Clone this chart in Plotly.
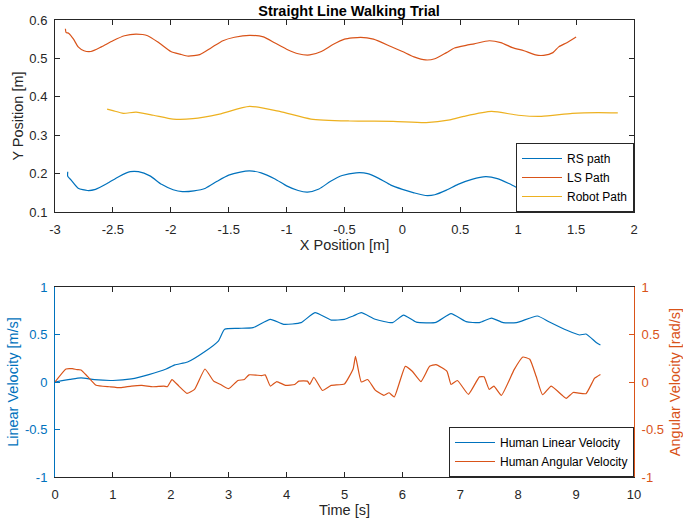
import plotly.graph_objects as go

# ---------------- Data ----------------
rs_x = [-2.89, -2.89, -2.86, -2.80, -2.72, -2.65, -2.55, -2.45, -2.35, -2.28, -2.18, -2.08, -1.98, -1.90,
        -1.80, -1.70, -1.60, -1.50, -1.40, -1.32, -1.22, -1.10, -1.00, -0.90, -0.82, -0.72, -0.62, -0.52,
        -0.40, -0.30, -0.20, -0.10, 0.00, 0.10, 0.20, 0.28, 0.38, 0.48, 0.60, 0.72, 0.82, 0.92, 1.00,
        1.10, 1.20, 1.30, 1.40, 1.48]
rs_y = [0.205, 0.193, 0.183, 0.162, 0.156, 0.159, 0.174, 0.192, 0.205, 0.205, 0.194, 0.172, 0.158, 0.153,
        0.155, 0.162, 0.180, 0.196, 0.204, 0.207, 0.202, 0.186, 0.168, 0.156, 0.152, 0.160, 0.180, 0.195,
        0.202, 0.200, 0.187, 0.170, 0.159, 0.150, 0.143, 0.145, 0.157, 0.172, 0.185, 0.192, 0.187, 0.174, 0.162,
        0.155, 0.152, 0.162, 0.180, 0.192]

ls_x = [-2.91, -2.905, -2.88, -2.84, -2.80, -2.75, -2.69, -2.60, -2.50, -2.40, -2.30, -2.20, -2.10, -2.00,
        -1.92, -1.85, -1.75, -1.65, -1.55, -1.45, -1.32, -1.20, -1.10, -1.00, -0.90, -0.80, -0.70, -0.60,
        -0.50, -0.36, -0.25, -0.10, 0.00, 0.10, 0.20, 0.28, 0.38, 0.45, 0.55, 0.62, 0.75, 0.85, 0.95,
        1.05, 1.15, 1.22, 1.30, 1.35, 1.42, 1.50]
ls_y = [0.577, 0.568, 0.565, 0.550, 0.530, 0.520, 0.518, 0.530, 0.546, 0.559, 0.563, 0.559, 0.540, 0.518,
        0.511, 0.506, 0.510, 0.528, 0.546, 0.555, 0.560, 0.556, 0.540, 0.524, 0.512, 0.509, 0.518, 0.536,
        0.550, 0.555, 0.550, 0.531, 0.518, 0.504, 0.496, 0.499, 0.515, 0.527, 0.534, 0.538, 0.546, 0.541, 0.528,
        0.520, 0.509, 0.508, 0.515, 0.530, 0.541, 0.556]

robot_x = [-2.55, -2.50, -2.41, -2.30, -2.15, -1.98, -1.81, -1.58, -1.32, -1.06, -0.79, -0.455, -0.08,
           0.205, 0.41, 0.53, 0.77, 1.00, 1.20, 1.466, 1.69, 1.86]
robot_y = [0.368, 0.364, 0.357, 0.360, 0.352, 0.342, 0.343, 0.355, 0.375, 0.362, 0.342, 0.337, 0.336,
           0.333, 0.340, 0.349, 0.362, 0.352, 0.349, 0.357, 0.359, 0.358]

t_lin = [0.0, 0.26, 0.45, 0.68, 1.0, 1.32, 1.62, 1.92, 2.07, 2.29, 2.59, 2.82, 2.93, 3.16, 3.42, 3.72,
         3.95, 4.25, 4.49, 4.77, 5.0, 5.15, 5.29, 5.53, 5.83, 6.02, 6.24, 6.58, 6.84, 7.1, 7.33, 7.54,
         7.74, 7.97, 8.33, 8.53, 8.83, 9.06, 9.17, 9.36, 9.42]
lin_vel = [0.0, 0.027, 0.043, 0.024, 0.016, 0.033, 0.078, 0.137, 0.18, 0.21, 0.32, 0.43, 0.555, 0.565,
           0.572, 0.66, 0.607, 0.625, 0.73, 0.652, 0.66, 0.695, 0.73, 0.66, 0.625, 0.705, 0.63, 0.628,
           0.72, 0.635, 0.625, 0.673, 0.625, 0.625, 0.695, 0.635, 0.547, 0.495, 0.505, 0.41, 0.39]

t_ang = [0.0, 0.19, 0.30, 0.38, 0.45, 0.56, 0.71, 0.94, 1.13, 1.32, 1.5, 1.69, 1.88, 1.94, 2.02, 2.14,
         2.28, 2.41, 2.59, 2.74, 2.86, 3.0, 3.16, 3.27, 3.35, 3.57, 3.63, 3.72, 3.83, 3.98, 4.14, 4.21,
         4.36, 4.4, 4.47, 4.62, 4.77, 5.0, 5.15, 5.19, 5.29, 5.4, 5.53, 5.68, 5.77, 5.86, 6.05, 6.17,
         6.32, 6.47, 6.58, 6.77, 6.84, 6.95, 7.14, 7.33, 7.41, 7.5, 7.58, 7.71, 7.93, 8.08, 8.2, 8.31,
         8.42, 8.57, 8.76, 8.83, 8.95, 9.17, 9.32, 9.42]
ang_vel = [0.0, 0.137, 0.14, 0.13, 0.127, 0.06, -0.035, -0.05, -0.06, -0.043, -0.036, -0.05, -0.043,
           -0.05, 0.026, -0.043, -0.12, -0.078, 0.137, 0.009, -0.026, -0.07, 0.016, 0.026, 0.075, 0.068,
           0.075, -0.043, 0.005, -0.036, -0.026, 0.009, 0.009, -0.026, 0.05, -0.089, -0.036, -0.02, 0.14,
           0.27, 0.0, 0.026, -0.085, -0.14, -0.113, -0.158, 0.165, 0.113, 0.005, 0.165, 0.183, 0.113,
           -0.026, 0.016, -0.13, 0.054, 0.054, -0.078, -0.043, -0.14, 0.13, 0.263, 0.24, 0.06, -0.134,
           -0.043, -0.14, -0.172, -0.11, -0.123, 0.04, 0.08]

top_xticks = [-3, -2.5, -2, -1.5, -1, -0.5, 0, 0.5, 1, 1.5, 2]
top_xtext = ["-3", "-2.5", "-2", "-1.5", "-1", "-0.5", "0", "0.5", "1", "1.5", "2"]
top_yticks = [0.1, 0.2, 0.3, 0.4, 0.5, 0.6]
top_ytext = ["0.1", "0.2", "0.3", "0.4", "0.5", "0.6"]
bot_xticks = [0, 1, 2, 3, 4, 5, 6, 7, 8, 9, 10]
bot_xtext = ["0", "1", "2", "3", "4", "5", "6", "7", "8", "9", "10"]
vel_ticks = [-1, -0.5, 0, 0.5, 1]
vel_text = ["-1", "-0.5", "0", "0.5", "1"]

# ---------------- Styling ----------------
W, H = 683, 522
BLUE = "#0072BD"
ORANGE = "#D95319"
YELLOW = "#EDB120"
AX = "#262626"
FONT = "Liberation Sans, Arial, sans-serif"

def px_x(p):
    return p / W

def px_y(p):
    return 1 - p / H

L, R = 55, 634
TOP_T, TOP_B = 20, 212
BOT_T, BOT_B = 287, 477

fig = go.Figure()
fig.add_trace(go.Scatter(x=rs_x, y=rs_y, mode="lines", name="RS path",
                         line=dict(color=BLUE, width=1.2, shape="spline", smoothing=0.6),
                         xaxis="x", yaxis="y", legend="legend"))
fig.add_trace(go.Scatter(x=ls_x, y=ls_y, mode="lines", name="LS Path",
                         line=dict(color=ORANGE, width=1.2, shape="spline", smoothing=0.6),
                         xaxis="x", yaxis="y", legend="legend"))
fig.add_trace(go.Scatter(x=robot_x, y=robot_y, mode="lines", name="Robot Path",
                         line=dict(color=YELLOW, width=1.2, shape="spline", smoothing=0.6),
                         xaxis="x", yaxis="y", legend="legend"))
fig.add_trace(go.Scatter(x=t_lin, y=lin_vel, mode="lines", name="Human Linear Velocity",
                         line=dict(color=BLUE, width=1.2, shape="spline", smoothing=0.5),
                         xaxis="x2", yaxis="y2", legend="legend2"))
fig.add_trace(go.Scatter(x=t_ang, y=ang_vel, mode="lines", name="Human Angular Velocity",
                         line=dict(color=ORANGE, width=1.2, shape="spline", smoothing=0.4),
                         xaxis="x2", yaxis="y3", legend="legend2"))

common = dict(showgrid=False, zeroline=False, showline=True, linewidth=1,
              ticks="inside", ticklen=5, tickwidth=1, automargin=False,
              tickfont=dict(family=FONT, size=13))

TFS = 14.5

fig.update_layout(
    width=W, height=H,
    margin=dict(l=0, r=0, t=0, b=0, autoexpand=False),
    paper_bgcolor="white", plot_bgcolor="white",
    font=dict(family=FONT, color=AX),
    showlegend=True,
    title=dict(text="<b>Straight Line Walking Trial</b>", x=px_x(349), xanchor="center",
               y=px_y(11), yanchor="middle", xref="paper", yref="paper", automargin=False,
               font=dict(family=FONT, size=14.5, color="black")),
    xaxis=dict(domain=[px_x(L), px_x(R)], range=[-3, 2], anchor="y",
               tickmode="array", tickvals=top_xticks, ticktext=top_xtext,
               linecolor=AX, tickcolor=AX, mirror="ticks", ticklabelstandoff=5,
               title=dict(text="X Position [m]", standoff=4, font=dict(family=FONT, size=TFS, color=AX)),
               **common),
    yaxis=dict(domain=[px_y(TOP_B), px_y(TOP_T)], range=[0.1, 0.6], anchor="x",
               tickmode="array", tickvals=top_yticks, ticktext=top_ytext,
               linecolor=AX, tickcolor=AX, mirror="ticks", ticklabelstandoff=4,
               title=dict(text="Y Position [m]", standoff=2, font=dict(family=FONT, size=TFS, color=AX)),
               **common),
    xaxis2=dict(domain=[px_x(L), px_x(R)], range=[0, 10], anchor="y2",
                tickmode="array", tickvals=bot_xticks, ticktext=bot_xtext,
                linecolor=AX, tickcolor=AX, mirror="ticks", ticklabelstandoff=5,
                title=dict(text="Time [s]", standoff=4, font=dict(family=FONT, size=TFS, color=AX)),
                **common),
    yaxis2=dict(domain=[px_y(BOT_B), px_y(BOT_T)], range=[-1, 1], anchor="x2",
                tickmode="array", tickvals=vel_ticks, ticktext=vel_text,
                linecolor=BLUE, tickcolor=BLUE, color=BLUE, ticklabelstandoff=4,
                title=dict(text="Linear Velocity [m/s]", standoff=2, font=dict(family=FONT, size=TFS, color=BLUE)),
                **common),
    yaxis3=dict(range=[-1, 1], anchor="x2", overlaying="y2", side="right",
                tickmode="array", tickvals=vel_ticks, ticktext=vel_text,
                linecolor=ORANGE, tickcolor=ORANGE, color=ORANGE, ticklabelstandoff=4,
                title=dict(text="Angular Velocity [rad/s]", standoff=11, font=dict(family=FONT, size=TFS, color=ORANGE)),
                **common),
    legend=dict(x=px_x(R), xanchor="right", y=px_y(TOP_B), yanchor="bottom",
                bgcolor="white", bordercolor=AX, borderwidth=1,
                font=dict(family=FONT, size=12, color="black"),
                itemwidth=40, tracegroupgap=0),
    legend2=dict(x=px_x(R), xanchor="right", y=px_y(BOT_B), yanchor="bottom",
                 bgcolor="white", bordercolor=AX, borderwidth=1,
                 font=dict(family=FONT, size=12, color="black"),
                 itemwidth=40, tracegroupgap=0),
)

fig.write_html("out.html")
